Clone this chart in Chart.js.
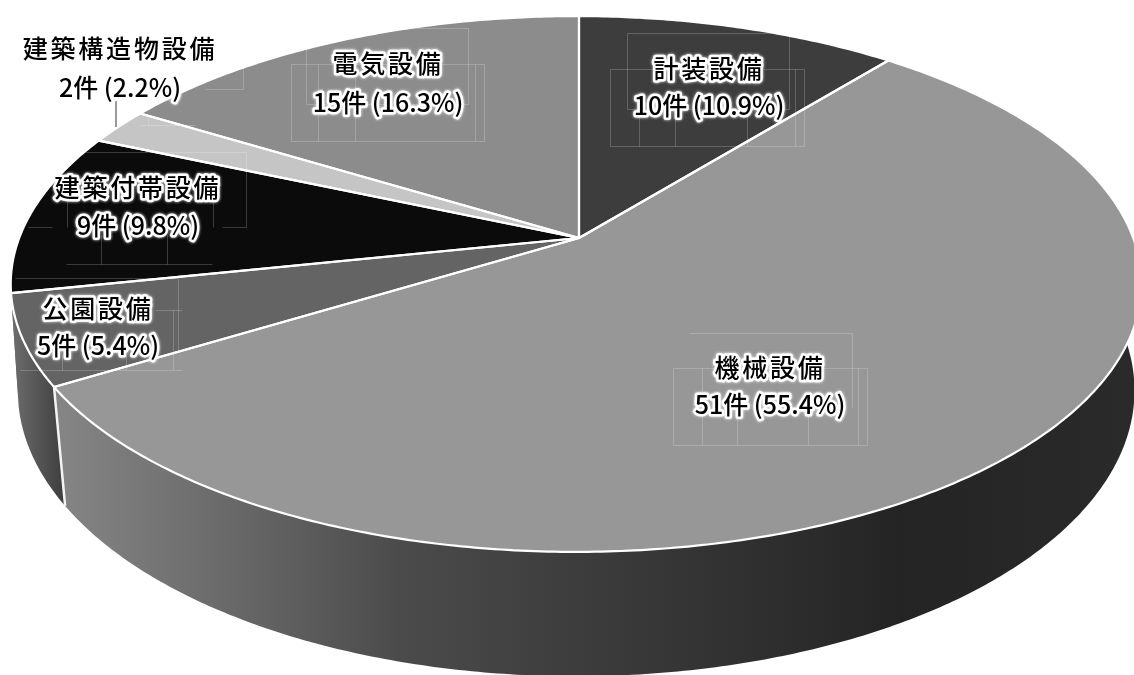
<!DOCTYPE html>
<html lang="ja">
<head>
<meta charset="utf-8">
<title>設備別件数</title>
<script src="https://cdn.jsdelivr.net/npm/chart.js@4"></script>
<style>
  html, body { margin: 0; padding: 0; background: #fff; }
  canvas { display: block; }
</style>
</head>
<body>
<canvas id="grafica" width="1134" height="675"></canvas>
<script>
const categories = ["計装設備", "機械設備", "公園設備", "建築付帯設備", "建築構造物設備", "電気設備"];
const counts = [10, 51, 5, 9, 2, 15];
const percents = ["10.9", "55.4", "5.4", "9.8", "2.2", "16.3"];

const sliceColors = ["#3d3d3d", "#979797", "#646464", "#0b0b0b", "#c5c5c5", "#8c8c8c"];

// side wall shades, [x, colour] along the horizontal
const wallShades = {
    1: [[60, "#858585"], [200, "#6e6e6e"], [400, "#4b4b4b"], [560, "#3e3e3e"], [800, "#2c2c2c"], [900, "#242424"], [1134, "#2a2a2a"]],
    2: [[15, "#6a6a6a"], [62, "#404040"]],
    3: [[15, "#6a6a6a"], [62, "#404040"]]
};

// label anchors: centre x, first line y, second line y
const labelSpots = [
    [709, 68, 105],
    [770, 367, 404],
    [98, 308, 345],
    [138, 187, 225],
    [120, 48, 87],
    [388, 63, 102]
];

// thin frame lines sitting behind the labels
const frameLines = [
    [291, 64, 484, 64], [291, 141, 484, 141], [291, 64, 291, 141], [484, 64, 484, 141],
    [306, 28, 468, 28], [306, 104, 468, 104], [306, 28, 306, 104], [468, 28, 468, 104],
    [318, 64, 318, 141], [355, 64, 355, 141], [475, 64, 475, 141],
    [610, 69, 804, 69], [610, 146, 804, 146], [610, 69, 610, 146], [804, 69, 804, 146],
    [627, 33, 789, 33], [627, 109, 789, 109], [627, 33, 627, 109], [789, 33, 789, 109],
    [639, 109, 639, 146], [675, 109, 675, 146], [747, 109, 747, 146], [795, 69, 795, 146],
    [673, 368, 867, 368], [673, 445, 867, 445], [673, 368, 673, 445], [867, 368, 867, 445],
    [689, 333, 852, 333], [852, 333, 852, 408], [702, 368, 702, 445], [737, 410, 737, 445], [808, 410, 808, 445], [858, 368, 858, 445],
    [15, 278, 178, 278], [178, 278, 178, 352], [155, 310, 182, 310], [173, 310, 173, 370],
    [20, 370, 182, 370], [62, 355, 62, 370], [126, 355, 126, 370],
    [85, 152, 246, 152], [246, 152, 246, 227], [222, 227, 246, 227], [28, 227, 52, 227], [67, 200, 67, 227],
    [66, 264, 212, 264], [101, 235, 101, 264], [167, 235, 167, 264], [213, 200, 213, 227],
    [205, 89, 243, 89], [243, 65, 243, 89], [140, 125, 195, 125], [148, 118, 148, 125]
];

// perspective of the top face and of the base, unit circle -> screen
const topFace = { x0: 579, y0: 238, a: 557, b: 260, k: -0.1716, m: 0.005 };
const baseFace = { x0: 579, y0: 348, a: 552, b: 279, k: -0.15, m: 0.005 };

function project(face, angle) {
    const u = Math.cos(angle), v = Math.sin(angle);
    const d = 1 + face.k * v + face.m * u;
    return [face.x0 + face.a * u / d, face.y0 + face.b * v / d];
}

function edgePoints(face, start, end) {
    const steps = Math.max(2, Math.ceil((end - start) / 0.01));
    const pts = [];
    for (let i = 0; i <= steps; i++) {
        pts.push(project(face, start + (end - start) * i / steps));
    }
    return pts;
}

function tracePath(ctx, pts) {
    pts.forEach((p, i) => i ? ctx.lineTo(p[0], p[1]) : ctx.moveTo(p[0], p[1]));
}

function traceWedge(ctx, arc) {
    ctx.beginPath();
    ctx.moveTo(topFace.x0, topFace.y0);
    edgePoints(topFace, arc.startAngle, arc.endAngle).forEach(p => ctx.lineTo(p[0], p[1]));
    ctx.closePath();
}

const pie3d = {
    id: "pie3d",
    beforeDatasetsDraw(chart) {
        const ctx = chart.ctx;
        const arcs = chart.getDatasetMeta(0).data;

        ctx.save();
        ctx.lineJoin = "round";

        // side walls first, the top face covers whatever is behind
        arcs.forEach((arc, i) => {
            const top = edgePoints(topFace, arc.startAngle, arc.endAngle);
            const base = edgePoints(baseFace, arc.startAngle, arc.endAngle).reverse();
            let fill = sliceColors[i];
            if (wallShades[i]) {
                const stops = wallShades[i];
                const x1 = stops[0][0], x2 = stops[stops.length - 1][0];
                fill = ctx.createLinearGradient(x1, 0, x2, 0);
                stops.forEach(s => fill.addColorStop((s[0] - x1) / (x2 - x1), s[1]));
            }
            ctx.beginPath();
            tracePath(ctx, top.concat(base));
            ctx.closePath();
            ctx.fillStyle = fill;
            ctx.fill();
        });

        // white seam between the two visible walls
        const seam = arcs[1].endAngle;
        ctx.beginPath();
        tracePath(ctx, [project(topFace, seam), project(baseFace, seam)]);
        ctx.strokeStyle = "#f4f4f4";
        ctx.lineWidth = 2.5;
        ctx.stroke();

        // top face slices
        arcs.forEach((arc, i) => {
            traceWedge(ctx, arc);
            ctx.fillStyle = sliceColors[i];
            ctx.fill();
        });
        arcs.forEach(arc => {
            traceWedge(ctx, arc);
            ctx.strokeStyle = "#fff";
            ctx.lineWidth = 2.2;
            ctx.stroke();
        });
        ctx.restore();
        return false;
    },
    afterDraw(chart) {
        const ctx = chart.ctx;
        ctx.save();

        ctx.strokeStyle = "rgba(255,255,255,0.2)";
        ctx.lineWidth = 1;
        frameLines.forEach(l => {
            ctx.beginPath();
            ctx.moveTo(l[0] + 0.5, l[1] + 0.5);
            ctx.lineTo(l[2] + 0.5, l[3] + 0.5);
            ctx.stroke();
        });

        // leader line of the small slice
        ctx.strokeStyle = "#9a9a9a";
        ctx.lineWidth = 2;
        ctx.beginPath();
        ctx.moveTo(116, 101);
        ctx.lineTo(116, 127);
        ctx.stroke();

        ctx.textAlign = "center";
        ctx.textBaseline = "middle";
        ctx.lineJoin = "round";
        categories.forEach((name, i) => {
            const spot = labelSpots[i];
            drawLabel(ctx, name, spot[0], spot[1], "2.8px");
            drawLabel(ctx, counts[i] + "件 (" + percents[i] + "%)", spot[0], spot[2], "0px");
        });
        ctx.restore();
    }
};

function drawLabel(ctx, text, x, y, spacing) {
    ctx.font = '500 25px "Noto Sans CJK JP"';
    ctx.letterSpacing = spacing;
    ctx.shadowColor = "#fff";
    ctx.shadowBlur = 3;
    ctx.strokeStyle = "#fff";
    ctx.lineWidth = 5;
    ctx.strokeText(text, x, y);
    ctx.shadowBlur = 0;
    ctx.fillStyle = "#000";
    ctx.fillText(text, x, y);
}

new Chart(document.querySelector("#grafica"), {
    type: "pie",
    data: {
        labels: categories,
        datasets: [{ data: counts, backgroundColor: sliceColors, borderColor: "#fff" }]
    },
    options: {
        responsive: false,
        animation: false,
        events: [],
        plugins: { legend: { display: false }, tooltip: { enabled: false } }
    },
    plugins: [pie3d]
});
</script>
</body>
</html>
